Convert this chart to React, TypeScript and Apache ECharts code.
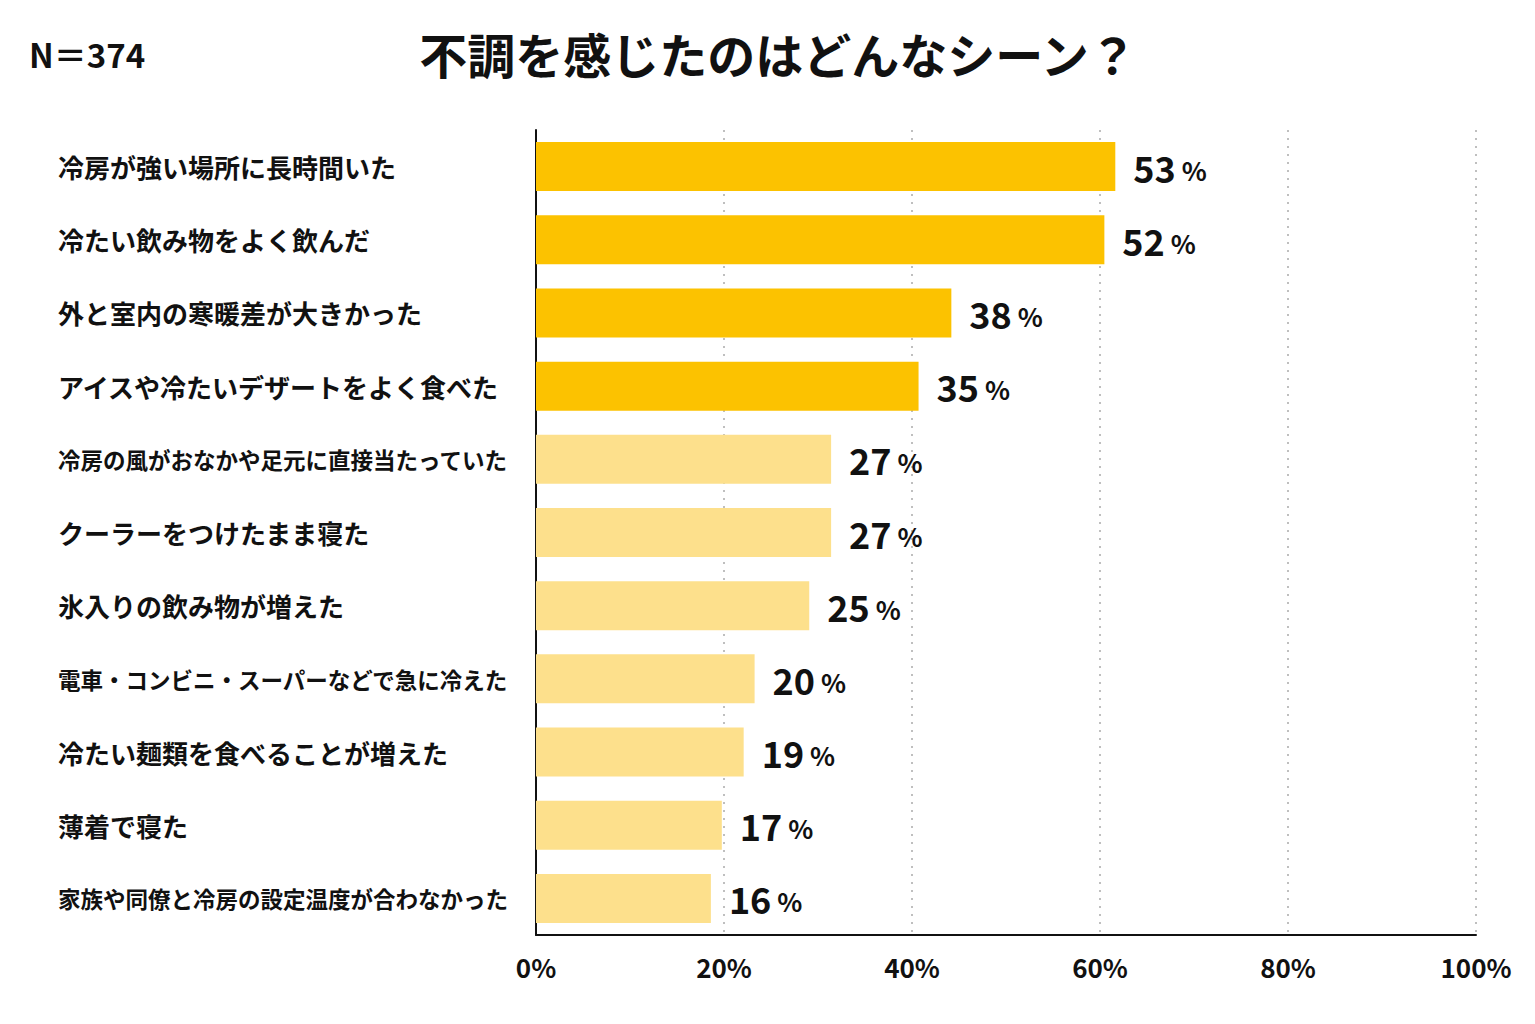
import { useEffect, useRef } from 'react'
import * as echarts from 'echarts'

const categories = [
  '冷房が強い場所に長時間いた',
  '冷たい飲み物をよく飲んだ',
  '外と室内の寒暖差が大きかった',
  'アイスや冷たいデザートをよく食べた',
  '冷房の風がおなかや足元に直接当たっていた',
  'クーラーをつけたまま寝た',
  '氷入りの飲み物が増えた',
  '電車・コンビニ・スーパーなどで急に冷えた',
  '冷たい麺類を食べることが増えた',
  '薄着で寝た',
  '家族や同僚と冷房の設定温度が合わなかった',
]

const values = [53, 52, 38, 35, 27, 27, 25, 20, 19, 17, 16]

// 上位4項目は濃い黄色
const highlightCount = 4

const axisTicks = [0, 20, 40, 60, 80, 100]

const JP = '"Noto Sans CJK JP", "Noto Sans", sans-serif'

export default function App() {
  const ref = useRef<HTMLDivElement>(null)

  useEffect(() => {
    if (!ref.current) return
    const chart = echarts.init(ref.current, undefined, { renderer: 'svg' })

    chart.setOption({
      animation: false,
      backgroundColor: '#ffffff',
      title: [
        {
          text: '不調を感じたのはどんなシーン？',
          left: 773,
          top: 24,
          textAlign: 'center',
          textStyle: { fontFamily: JP, fontSize: 48, fontWeight: 'bold', color: '#111' },
        },
        {
          text: 'N＝374',
          left: 24,
          top: 32,
          textStyle: { fontFamily: JP, fontSize: 33, fontWeight: 'bold', color: '#111' },
        },
      ],
      grid: { left: 536, right: 59, top: 130, bottom: 89 },
      xAxis: [
        {
          type: 'value',
          min: 0,
          max: 100,
          interval: 20,
          axisLine: { show: true, lineStyle: { color: '#111', width: 2 } },
          axisTick: { show: false },
          splitLine: { show: true, lineStyle: { color: '#aaa', type: [2, 6], width: 1.5 } },
          axisLabel: {
            margin: 18,
            fontFamily: JP,
            fontSize: 26,
            fontWeight: 'bold',
            color: '#111',
            formatter: (v: number) => (axisTicks.includes(v) ? `${v}%` : ''),
          },
        },
        {
          // 棒の長さ用（非表示）
          type: 'value',
          min: 0,
          max: 86,
          show: false,
          splitLine: { show: false },
        },
      ],
      yAxis: {
        type: 'category',
        data: categories,
        inverse: true,
        axisLine: { show: true, lineStyle: { color: '#111', width: 2 } },
        axisTick: { show: false },
        axisLabel: {
          align: 'left',
          margin: 478,
          formatter: (v: string) => (v.length > 17 ? `{s|${v}}` : `{n|${v}}`),
          rich: {
            n: { fontFamily: JP, fontSize: 26, fontWeight: 'bold', color: '#111' },
            s: { fontFamily: JP, fontSize: 22.5, fontWeight: 'bold', color: '#111' },
          },
        },
      },
      series: [
        {
          type: 'bar',
          xAxisIndex: 1,
          barWidth: 49,
          data: values.map((v, i) => ({
            value: v,
            itemStyle: { color: i < highlightCount ? '#FCC200' : '#FDE08C' },
          })),
          label: {
            show: true,
            position: 'right',
            distance: 18,
            formatter: (p: { value: number }) => `{v|${p.value}}{p| %}`,
            rich: {
              v: { fontFamily: JP, fontSize: 36, fontWeight: 'bold', color: '#111' },
              p: { fontFamily: JP, fontSize: 26, fontWeight: 'bold', color: '#111', padding: [5, 0, 0, 0] },
            },
          },
        },
      ],
    })

    return () => chart.dispose()
  }, [])

  return (
    <div
      ref={ref}
      style={{ position: 'absolute', left: 0, top: 0, width: 1535, height: 1024 }}
    />
  )
}
